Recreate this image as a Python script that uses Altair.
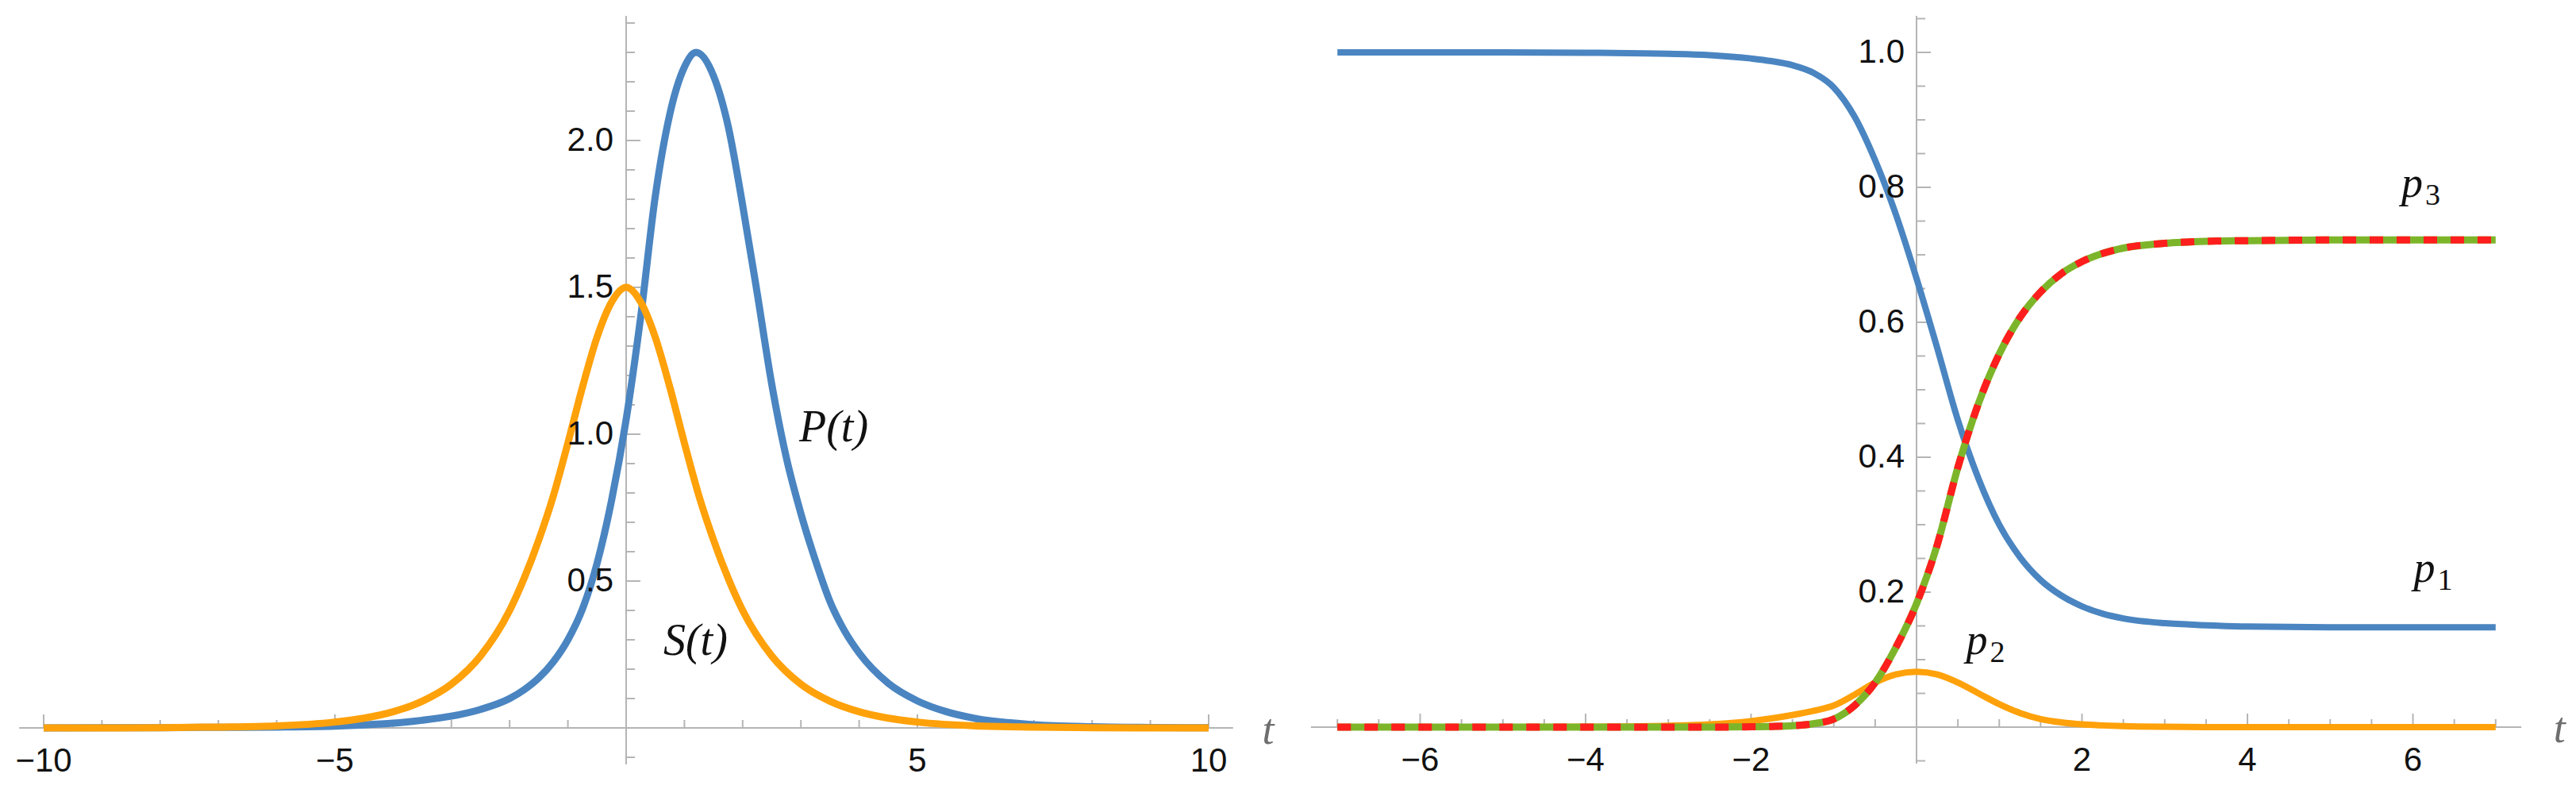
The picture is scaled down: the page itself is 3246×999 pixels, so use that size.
import altair as alt
import pandas as pd

# ---------------- data ----------------
# Left panel: P(t) (blue) and S(t) (orange)
S_T = [-10, -9, -8, -7, -6, -5, -4.5, -4, -3.5, -3, -2.5, -2, -1.75, -1.5, -1.25, -1, -0.75, -0.5, -0.25, 0,
       0.25, 0.5, 0.75, 1, 1.25, 1.5, 1.75, 2, 2.5, 3, 3.5, 4, 4.5, 5, 6, 7, 8, 9, 10]
S_V = [0.000, 0.000, 0.001, 0.003, 0.007, 0.020, 0.033, 0.055, 0.091, 0.149, 0.245, 0.40, 0.51, 0.64, 0.79, 0.97, 1.16, 1.33, 1.45, 1.50,
       1.45, 1.33, 1.16, 0.97, 0.79, 0.64, 0.51, 0.40, 0.245, 0.149, 0.091, 0.055, 0.033, 0.020, 0.007, 0.003, 0.001, 0.000, 0.000]

P_T = [-10, -8, -7, -6, -5, -4.5, -4, -3.5, -3, -2.5, -2, -1.75, -1.5, -1.25, -1, -0.75, -0.5, -0.25, 0,
       0.25, 0.5, 0.75, 1, 1.2, 1.5, 1.75, 2, 2.25, 2.5, 2.75, 3, 3.25, 3.5, 3.75, 4, 4.5, 5, 5.5, 6, 7, 8, 9, 10]
P_V = [0.000, 0.001, 0.002, 0.003, 0.006, 0.010, 0.016, 0.026, 0.040, 0.063, 0.100, 0.130, 0.170, 0.225, 0.300, 0.405, 0.560, 0.775, 1.05,
       1.40, 1.81, 2.09, 2.25, 2.30, 2.22, 2.05, 1.78, 1.48, 1.17, 0.92, 0.73, 0.57, 0.43, 0.33, 0.255, 0.152, 0.092, 0.055, 0.032, 0.011, 0.004, 0.0015, 0.0005]

# Right panel: p1 (blue), p2 (orange), p3 (green / red dashed)
R_T = [-7, -6, -5, -4, -3, -2.5, -2, -1.75, -1.5, -1.25, -1, -0.75, -0.5, -0.25, 0,
       0.25, 0.5, 0.75, 1, 1.25, 1.5, 1.75, 2, 2.25, 2.5, 3, 3.5, 4, 5, 6, 7]
P1_V = [1.0, 1.0, 1.0, 0.9995, 0.998, 0.996, 0.991, 0.987, 0.981, 0.970, 0.948, 0.905, 0.840, 0.760, 0.665,
        0.562, 0.455, 0.368, 0.300, 0.252, 0.218, 0.195, 0.179, 0.168, 0.161, 0.154, 0.151, 0.149, 0.148, 0.148, 0.148]
P2_V = [0, 0, 0, 0.0005, 0.002, 0.004, 0.009, 0.013, 0.018, 0.024, 0.032, 0.048, 0.066, 0.078, 0.082,
        0.078, 0.066, 0.050, 0.034, 0.021, 0.012, 0.007, 0.004, 0.0025, 0.0015, 0.0005, 0, 0, 0, 0, 0]
P3_V = [0, 0, 0, 0, 0, 0, 0.0005, 0.001, 0.002, 0.005, 0.012, 0.032, 0.066, 0.118, 0.183,
        0.270, 0.385, 0.480, 0.553, 0.607, 0.645, 0.672, 0.690, 0.702, 0.710, 0.717, 0.720, 0.721, 0.722, 0.722, 0.722]

# tick values / labels
L_X_MAJOR = [-10, -5, 5, 10]
L_X_LABELS = ["\u221210", "\u22125", "5", "10"]
L_X_MINOR = [-9, -8, -7, -6, -4, -3, -2, -1, 1, 2, 3, 4, 6, 7, 8, 9]
L_Y_MAJOR = [0.5, 1.0, 1.5, 2.0]
L_Y_LABELS = ["0.5", "1.0", "1.5", "2.0"]
L_Y_MINOR = [-0.1, 0.1, 0.2, 0.3, 0.4, 0.6, 0.7, 0.8, 0.9, 1.1, 1.2, 1.3, 1.4, 1.6, 1.7, 1.8, 1.9, 2.1, 2.2, 2.3, 2.4]

R_X_MAJOR = [-6, -4, -2, 2, 4, 6]
R_X_LABELS = ["\u22126", "\u22124", "\u22122", "2", "4", "6"]
R_X_MINOR = [-7, -6.5, -5.5, -5, -4.5, -3.5, -3, -2.5, -1.5, -1, -0.5, 0.5, 1, 1.5, 2.5, 3, 3.5, 4.5, 5, 5.5, 6.5, 7]
R_Y_MAJOR = [0.2, 0.4, 0.6, 0.8, 1.0]
R_Y_LABELS = ["0.2", "0.4", "0.6", "0.8", "1.0"]
R_Y_MINOR = [-0.05, 0.05, 0.1, 0.15, 0.25, 0.3, 0.35, 0.45, 0.5, 0.55, 0.65, 0.7, 0.75, 0.85, 0.9, 0.95, 1.05]

# ---------------- styling ----------------
BLUE = "#4A85C1"
ORANGE = "#FFA10A"
GREEN = "#7DB52A"
RED = "#FF1E1E"
AXIS_GRAY = "#B5B5B5"
NUM_FONT = "Liberation Sans"
MATH_FONT = "Liberation Serif"

H = 980
SPACING = 10


def make_panel(W, px_t, px_v, origin_x, origin_y, left_px, top_px,
               xaxis_ext, yaxis_ext, x_major, x_labels, x_minor, y_major, y_labels, y_minor,
               lines, texts, tlabel, lab_dx):
    xmin = (left_px - origin_x) / px_t
    xmax = xmin + W / px_t
    vmax = (origin_y - top_px) / px_v
    vmin = vmax - H / px_v
    xs = alt.Scale(domain=[xmin, xmax], nice=False, zero=False)
    ys = alt.Scale(domain=[vmin, vmax], nice=False, zero=False)
    X = lambda f='t': alt.X(f + ':Q', scale=xs, axis=None)
    Y = lambda f='v': alt.Y(f + ':Q', scale=ys, axis=None)

    layers = []
    # axis lines
    ax_df = pd.DataFrame({'t': [xaxis_ext[0]], 't2': [xaxis_ext[1]], 'v': [0.0]})
    layers.append(alt.Chart(ax_df).mark_rule(color=AXIS_GRAY, strokeWidth=2)
                  .encode(x=X(), x2='t2:Q', y=Y()))
    ay_df = pd.DataFrame({'t': [0.0], 'v': [yaxis_ext[0]], 'v2': [yaxis_ext[1]]})
    layers.append(alt.Chart(ay_df).mark_rule(color=AXIS_GRAY, strokeWidth=2)
                  .encode(x=X(), y=Y(), y2='v2:Q'))
    # x ticks (pointing up)
    xt = pd.DataFrame({'t': x_major + x_minor,
                       'v': [0.0] * (len(x_major) + len(x_minor)),
                       'v2': [17 / px_v] * len(x_major) + [10 / px_v] * len(x_minor)})
    layers.append(alt.Chart(xt).mark_rule(color=AXIS_GRAY, strokeWidth=2)
                  .encode(x=X(), y=Y(), y2='v2:Q'))
    # y ticks (pointing right)
    yt = pd.DataFrame({'v': y_major + y_minor,
                       't': [0.0] * (len(y_major) + len(y_minor)),
                       't2': [18 / px_t] * len(y_major) + [11 / px_t] * len(y_minor)})
    layers.append(alt.Chart(yt).mark_rule(color=AXIS_GRAY, strokeWidth=2)
                  .encode(x=X(), x2='t2:Q', y=Y()))
    # curves
    for df, kw in lines:
        layers.append(alt.Chart(df).mark_line(interpolate='monotone', **kw)
                      .encode(x=X(), y=Y()))
    # tick labels
    xl = pd.DataFrame({'t': x_major, 'v': [0.0] * len(x_major), 'label': x_labels})
    layers.append(alt.Chart(xl).mark_text(font=NUM_FONT, fontSize=42, color='#111111',
                                          align='center', baseline='alphabetic', dy=55)
                  .encode(x=X(), y=Y(), text='label:N'))
    yl = pd.DataFrame({'t': [0.0] * len(y_major), 'v': y_major, 'label': y_labels})
    layers.append(alt.Chart(yl).mark_text(font=NUM_FONT, fontSize=42, color='#111111',
                                          align='right', baseline='middle', dx=lab_dx)
                  .encode(x=X(), y=Y(), text='label:N'))
    # axis label t
    tl = pd.DataFrame({'t': [tlabel[0]], 'v': [tlabel[1]], 'label': ['t']})
    layers.append(alt.Chart(tl).mark_text(font=MATH_FONT, fontStyle='italic', fontSize=54,
                                          color='#6E6E6E', align='left', baseline='alphabetic')
                  .encode(x=X(), y=Y(), text='label:N'))
    # annotations
    for tx, tv, label, kw in texts:
        d = pd.DataFrame({'t': [tx], 'v': [tv], 'label': [label]})
        layers.append(alt.Chart(d).mark_text(align='left', baseline='alphabetic', color='#111111', **kw)
                      .encode(x=X(), y=Y(), text='label:N'))
    return alt.layer(*layers).properties(width=W, height=H)


left_lines = [
    (pd.DataFrame({'t': P_T, 'v': P_V}), dict(color=BLUE, strokeWidth=9)),
    (pd.DataFrame({'t': S_T, 'v': S_V}), dict(color=ORANGE, strokeWidth=9)),
]
left_texts = [
    (2.97, 0.975, "P(t)", dict(font=MATH_FONT, fontStyle='italic', fontSize=56)),
    (0.64, 0.25, "S(t)", dict(font=MATH_FONT, fontStyle='italic', fontSize=56)),
]
left = make_panel(W=1612, px_t=73.4, px_v=370, origin_x=789, origin_y=917, left_px=8, top_px=8,
                  xaxis_ext=(-10.42, 10.42), yaxis_ext=(-0.124, 2.424),
                  x_major=L_X_MAJOR, x_labels=L_X_LABELS, x_minor=L_X_MINOR,
                  y_major=L_Y_MAJOR, y_labels=L_Y_LABELS, y_minor=L_Y_MINOR,
                  lines=left_lines, texts=left_texts, tlabel=(10.92, -0.055), lab_dx=-16)

right_lines = [
    (pd.DataFrame({'t': R_T, 'v': P1_V}), dict(color=BLUE, strokeWidth=8)),
    (pd.DataFrame({'t': R_T, 'v': P2_V}), dict(color=ORANGE, strokeWidth=8)),
    (pd.DataFrame({'t': R_T, 'v': P3_V}), dict(color=GREEN, strokeWidth=9)),
    (pd.DataFrame({'t': R_T, 'v': P3_V}), dict(color=RED, strokeWidth=9, strokeDash=[17, 17])),
]
sub_kw = dict(font=MATH_FONT, fontSize=38, dx=30, dy=10)
p_kw = dict(font=MATH_FONT, fontStyle='italic', fontSize=54)
right_texts = [
    (5.86, 0.786, "p", p_kw), (5.86, 0.786, "3", sub_kw),
    (6.01, 0.215, "p", p_kw), (6.01, 0.215, "1", sub_kw),
    (0.60, 0.108, "p", p_kw), (0.60, 0.108, "2", sub_kw),
]
right = make_panel(W=1608, px_t=104.25, px_v=850, origin_x=2415, origin_y=916,
                   left_px=8 + 1612 + SPACING, top_px=8,
                   xaxis_ext=(-7.32, 7.31), yaxis_ext=(-0.054, 1.054),
                   x_major=R_X_MAJOR, x_labels=R_X_LABELS, x_minor=R_X_MINOR,
                   y_major=R_Y_MAJOR, y_labels=R_Y_LABELS, y_minor=R_Y_MINOR,
                   lines=right_lines, texts=right_texts, tlabel=(7.70, -0.022), lab_dx=-15)

chart = alt.hconcat(left, right, spacing=SPACING, padding=0, background='white').configure_view(stroke=None)

chart.save("out.html", embed_options={"renderer": "svg", "actions": False})
